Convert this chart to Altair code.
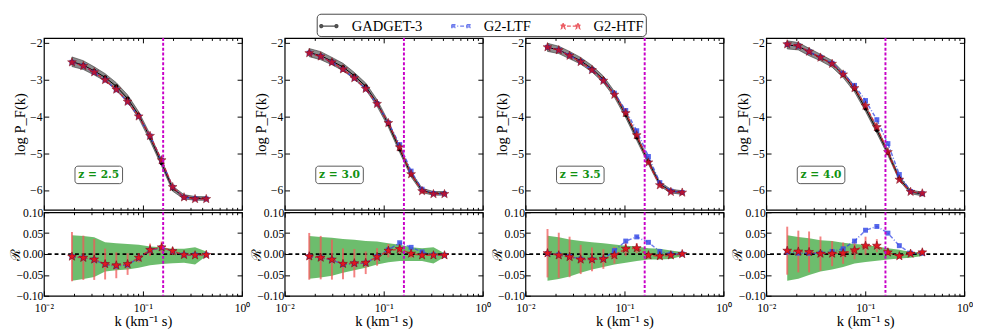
import math
import altair as alt
import pandas as pd

# ---------------- data ----------------
series_names = ["GADGET-3", "G2-LTF", "G2-HTF"]
z_labels = ["z = 2.5", "z = 3.0", "z = 3.5", "z = 4.0"]
k_cut = [0.16, 0.16, 0.16, 0.16]
zero_level = [0.0]

x_major = [0.01, 0.1, 1.0]
x_minor = [0.02, 0.03, 0.04, 0.05, 0.06, 0.07, 0.08, 0.09,
           0.2, 0.3, 0.4, 0.5, 0.6, 0.7, 0.8, 0.9]
x_tick_labels = ["10⁻²", "10⁻¹", "10⁰"]
ytop_ticks = [-6, -5, -4, -3, -2]
ybot_ticks = [-0.10, -0.05, 0.0, 0.05, 0.10]

k_vals = [
    [0.0192, 0.0250, 0.0322, 0.0415, 0.0538, 0.0700, 0.0906, 0.118, 0.1545, 0.1995, 0.260, 0.336, 0.436],
    [0.0177, 0.0231, 0.0300, 0.0388, 0.0505, 0.0658, 0.0857, 0.1114, 0.145, 0.189, 0.244, 0.318, 0.411],
    [0.0167, 0.0217, 0.0279, 0.0361, 0.0470, 0.0612, 0.0791, 0.103, 0.133, 0.1746, 0.2275, 0.294, 0.383],
    [0.0163, 0.0211, 0.0271, 0.0353, 0.0463, 0.0598, 0.0780, 0.1007, 0.131, 0.1694, 0.221, 0.287, 0.377],
]

gadget_logp = [
    [-2.515, -2.606, -2.764, -2.939, -3.184, -3.516, -3.964, -4.576, -5.274, -5.962, -6.188, -6.226, -6.232],
    [-2.267, -2.350, -2.497, -2.658, -2.896, -3.183, -3.635, -4.214, -4.899, -5.576, -6.012, -6.092, -6.092],
    [-2.124, -2.193, -2.334, -2.488, -2.705, -2.994, -3.400, -3.960, -4.574, -5.234, -5.840, -6.030, -6.070],
    [-2.056, -2.093, -2.251, -2.400, -2.573, -2.866, -3.259, -3.786, -4.378, -4.990, -5.690, -6.050, -6.110],
]
gadget_sigma = [
    [0.13, 0.12, 0.11, 0.10, 0.10, 0.10, 0.09, 0.09, 0.08, 0.07, 0.06, 0.05, 0.05],
    [0.11, 0.11, 0.10, 0.10, 0.09, 0.09, 0.09, 0.08, 0.08, 0.07, 0.06, 0.05, 0.05],
    [0.11, 0.10, 0.10, 0.09, 0.09, 0.09, 0.08, 0.08, 0.08, 0.07, 0.06, 0.05, 0.05],
    [0.11, 0.10, 0.10, 0.09, 0.09, 0.08, 0.08, 0.08, 0.08, 0.07, 0.06, 0.05, 0.05],
]
ltf_logp = [
    [-2.530, -2.629, -2.803, -3.012, -3.276, -3.607, -4.004, -4.535, -5.195, -5.926, -6.200, -6.238, -6.245],
    [-2.280, -2.371, -2.532, -2.724, -2.963, -3.253, -3.657, -4.172, -4.767, -5.487, -5.980, -6.100, -6.110],
    [-2.122, -2.197, -2.348, -2.518, -2.740, -3.030, -3.370, -3.840, -4.390, -5.090, -5.800, -6.030, -6.070],
    [-2.046, -2.089, -2.247, -2.395, -2.558, -2.830, -3.158, -3.570, -4.090, -4.740, -5.580, -6.040, -6.100],
]
htf_logp = [
    [-2.530, -2.630, -2.800, -3.010, -3.270, -3.600, -4.000, -4.530, -5.190, -5.920, -6.200, -6.245, -6.245],
    [-2.280, -2.370, -2.530, -2.720, -2.960, -3.250, -3.660, -4.180, -4.840, -5.570, -6.030, -6.110, -6.110],
    [-2.120, -2.200, -2.350, -2.520, -2.740, -3.030, -3.410, -3.910, -4.510, -5.250, -5.870, -6.050, -6.070],
    [-2.040, -2.080, -2.240, -2.400, -2.570, -2.860, -3.230, -3.710, -4.290, -4.970, -5.720, -6.050, -6.090],
]
ltf_ratio = [
    [-0.006, -0.009, -0.014, -0.025, -0.029, -0.026, -0.010, 0.009, 0.015, 0.006, -0.002, -0.002, -0.002],
    [-0.006, -0.009, -0.014, -0.025, -0.023, -0.022, -0.006, 0.010, 0.027, 0.016, 0.005, -0.002, -0.003],
    [0.001, -0.002, -0.006, -0.012, -0.013, -0.012, 0.008, 0.031, 0.041, 0.028, 0.006, 0.000, 0.000],
    [0.005, 0.002, 0.002, 0.002, 0.006, 0.0125, 0.031, 0.057, 0.066, 0.050, 0.020, 0.002, 0.002],
]
htf_ratio = [
    [-0.006, -0.009, -0.013, -0.024, -0.027, -0.024, -0.009, 0.010, 0.016, 0.007, -0.002, -0.003, -0.002],
    [-0.0055, -0.0086, -0.0133, -0.0235, -0.022, -0.021, -0.007, 0.008, 0.012, 0.001, -0.003, -0.003, -0.003],
    [0.002, -0.003, -0.007, -0.013, -0.013, -0.012, -0.003, 0.0125, 0.014, -0.003, -0.005, -0.003, 0.000],
    [0.008, 0.006, 0.005, 0.001, 0.001, 0.002, 0.009, 0.020, 0.020, 0.004, -0.005, 0.001, 0.004],
]
htf_err = [
    [0.059, 0.053, 0.049, 0.037, 0.031, 0.026, 0.011, 0.015, 0.014, 0.009, 0.006, 0.004, 0.003],
    [0.056, 0.052, 0.048, 0.037, 0.034, 0.027, 0.021, 0.016, 0.012, 0.010, 0.005, 0.004, 0.003],
    [0.058, 0.054, 0.0485, 0.035, 0.0285, 0.0235, 0.020, 0.0175, 0.012, 0.008, 0.005, 0.004, 0.003],
    [0.0575, 0.050, 0.049, 0.041, 0.030, 0.0255, 0.0215, 0.0215, 0.0156, 0.0067, 0.005, 0.004, 0.003],
]
band_upper = [
    [0.045, 0.043, 0.040, 0.028, 0.026, 0.024, 0.022, 0.018, 0.016, 0.0125, 0.0125, 0.016, 0.006],
    [0.043, 0.041, 0.039, 0.036, 0.034, 0.031, 0.030, 0.026, 0.022, 0.016, 0.014, 0.016, 0.002],
    [0.044, 0.040, 0.035, 0.031, 0.028, 0.026, 0.023, 0.020, 0.018, 0.014, 0.0125, 0.0086, 0.005],
    [0.045, 0.041, 0.038, 0.033, 0.031, 0.027, 0.024, 0.022, 0.018, 0.014, 0.010, 0.005, 0.004],
]
band_lower = [
    [-0.064, -0.060, -0.055, -0.042, -0.039, -0.037, -0.033, -0.027, -0.024, -0.022, -0.021, -0.025, -0.005],
    [-0.059, -0.056, -0.052, -0.045, -0.039, -0.033, -0.025, -0.020, -0.017, -0.017, -0.017, -0.023, -0.007],
    [-0.064, -0.060, -0.054, -0.045, -0.037, -0.031, -0.025, -0.021, -0.017, -0.013, -0.013, -0.012, -0.005],
    [-0.064, -0.059, -0.050, -0.042, -0.037, -0.031, -0.023, -0.019, -0.016, -0.013, -0.011, -0.009, -0.005],
]

# ---------------- style ----------------
SERIF = "Liberation Serif"
C_G, C_L, C_H = "black", "#2f43e6", "#e3161f"
MAGENTA = "#c800c8"
W, H_TOP, H_BOT = 204, 177, 86

xscale = alt.Scale(type="log", domain=[0.01, 1.0])
ytop_scale = alt.Scale(domain=[-6.54, -1.87], nice=False, zero=False)
ybot_scale = alt.Scale(domain=[-0.1, 0.1], nice=False, zero=False)

xlab_expr = ("datum.value < 0.05 ? '{0}' : (datum.value < 0.5 ? '{1}' : '{2}')"
             .format(*x_tick_labels))


def star_path(cx=0.0, cy=0.0, ro=1.0, ri=0.4):
    pts = []
    for j in range(10):
        r = ro if j % 2 == 0 else ri
        a = -math.pi / 2 + j * math.pi / 5
        pts.append(f"{cx + r * math.cos(a):.3f},{cy + r * math.sin(a):.3f}")
    return "M" + " L".join(pts) + " Z"


STAR = star_path()


def ax(orient, values, size, labels=False, title=None, **kw):
    return alt.Axis(orient=orient, values=values, tickSize=size, offset=-size,
                    labels=labels, title=title, domain=False, grid=False,
                    labelFlush=False, **kw)


def legend_paths():
    def circ(cx, r):
        return (f"M{cx - r},0 A{r},{r} 0 1,0 {cx + r},0 "
                f"A{r},{r} 0 1,0 {cx - r},0 Z")

    def sq(cx, h):
        return f"M{cx - h},{-h} L{cx + h},{-h} L{cx + h},{h} L{cx - h},{h} Z"

    line = "M-1,0 L1,0 "
    return [line + circ(-0.8, 0.16) + " " + circ(0.8, 0.16),
            line + sq(-0.8, 0.17) + " " + sq(0.8, 0.17),
            line + star_path(-0.78, 0, 0.32, 0.13) + " " + star_path(0.78, 0, 0.32, 0.13)]


def legend_layer():
    leg = alt.Legend(title=None, orient="none", legendX=281, legendY=-25,
                     direction="horizontal", symbolSize=380,
                     symbolStrokeWidth=1.2, labelFont=SERIF, labelFontSize=15,
                     labelColor="black", columnPadding=27, labelOffset=13,
                     padding=2, strokeColor="#444", cornerRadius=4,
                     fillColor="white")
    cols = [C_G, C_L, C_H]
    return alt.Chart(alt.Data(values=[])).mark_point(filled=True).encode(
        fill=alt.Fill("series:N", scale=alt.Scale(domain=series_names, range=cols), legend=leg),
        stroke=alt.Stroke("series:N", scale=alt.Scale(domain=series_names, range=cols), legend=leg),
        shape=alt.Shape("series:N", scale=alt.Scale(domain=series_names, range=legend_paths()), legend=leg),
        strokeDash=alt.StrokeDash("series:N", scale=alt.Scale(domain=series_names,
                                  range=[[1, 0], [4, 2, 1, 2], [4, 2]]), legend=leg),
    )


def top_panel(i):
    df = pd.DataFrame({"k": k_vals[i], "g": gadget_logp[i], "s": gadget_sigma[i],
                       "l": ltf_logp[i], "h": htf_logp[i]})
    df["lo"] = df["g"] - df["s"]
    df["hi"] = df["g"] + df["s"]
    base = alt.Chart(df)
    band = base.mark_area(fill="black", fillOpacity=0.45, stroke="#333",
                          strokeWidth=0.6).encode(
        x=alt.X("k:Q", scale=xscale, axis=ax("bottom", x_major, 5)),
        y=alt.Y("lo:Q", scale=ytop_scale,
                axis=ax("left", ytop_ticks, 5, labels=True, title="log P_F(k)",
                        titlePadding=2, labelPadding=2)),
        y2="hi:Q")
    g_line = base.mark_line(color=C_G, strokeWidth=1).encode(
        x=alt.X("k:Q", scale=xscale, axis=ax("bottom", x_minor, 2.5)),
        y=alt.Y("g:Q", scale=ytop_scale, axis=ax("right", ytop_ticks, 5)))
    l_line = base.mark_line(color=C_L, strokeWidth=1.5, strokeDash=[4, 2, 1, 2],
                            opacity=0.75).encode(
        x=alt.X("k:Q", scale=xscale, axis=ax("top", x_major, 5)),
        y=alt.Y("l:Q", scale=ytop_scale, axis=None))
    h_line = base.mark_line(color=C_H, strokeWidth=1.5, strokeDash=[4, 2],
                            opacity=0.75).encode(
        x=alt.X("k:Q", scale=xscale, axis=ax("top", x_minor, 2.5)),
        y=alt.Y("h:Q", scale=ytop_scale, axis=None))
    g_pts = base.mark_point(shape="circle", filled=True, size=18, color=C_G,
                            opacity=1).encode(
        x=alt.X("k:Q", scale=xscale, axis=None),
        y=alt.Y("g:Q", scale=ytop_scale, axis=None))
    l_pts = base.mark_point(shape="square", filled=True, size=26, color=C_L,
                            opacity=0.8).encode(
        x=alt.X("k:Q", scale=xscale, axis=None),
        y=alt.Y("l:Q", scale=ytop_scale, axis=None))
    h_pts = base.mark_point(shape=STAR, filled=True, size=90, fill="#c8102a",
                            stroke="#7a0a1a", strokeWidth=0.6, opacity=0.9).encode(
        x=alt.X("k:Q", scale=xscale, axis=None),
        y=alt.Y("h:Q", scale=ytop_scale, axis=None))
    vline = alt.Chart(pd.DataFrame({"k": [k_cut[i]]})).mark_rule(
        color=MAGENTA, strokeWidth=2, strokeDash=[3, 2]).encode(
        x=alt.X("k:Q", scale=xscale, axis=None))
    zdf = alt.Chart(pd.DataFrame({"z": [z_labels[i]]}))
    zbox = zdf.mark_rect(fill="white", stroke="#555", strokeWidth=1,
                         cornerRadius=3).encode(
        x=alt.value(32), x2=alt.value(81), y=alt.value(132), y2=alt.value(150))
    ztxt = zdf.mark_text(font="DejaVu Serif", fontWeight="bold", fontSize=11,
                         color="#119111").encode(
        x=alt.value(56.5), y=alt.value(141.5), text="z:N")
    layers = [band, g_line, l_line, h_line, g_pts, l_pts, h_pts, vline, zbox, ztxt]
    if i == 0:
        layers.append(legend_layer())
    return alt.layer(*layers).resolve_axis(x="independent", y="independent").properties(
        width=W, height=H_TOP)


def bottom_panel(i):
    df = pd.DataFrame({"k": k_vals[i], "rl": ltf_ratio[i], "rh": htf_ratio[i],
                       "e": htf_err[i], "bu": band_upper[i], "bl": band_lower[i]})
    df["elo"] = df["rh"] - df["e"]
    df["ehi"] = df["rh"] + df["e"]
    base = alt.Chart(df)
    band = base.mark_area(fill="#1f9a1f", fillOpacity=0.65).encode(
        x=alt.X("k:Q", scale=xscale,
                axis=ax("bottom", x_major, 5, labels=True, title="k (km⁻¹ s)",
                        labelExpr=xlab_expr, labelPadding=7, titlePadding=1)),
        y=alt.Y("bl:Q", scale=ybot_scale,
                axis=ax("left", ybot_ticks, 5, labels=True, title="ℛ",
                        format=".2f", labelPadding=1, titleX=-27,
                        titleY=H_BOT / 2, titleAngle=270, titleAlign="center",
                        titleBaseline="bottom", titleFontSize=14)),
        y2="bu:Q")
    zero = alt.Chart(pd.DataFrame({"r": zero_level})).mark_rule(
        color="black", strokeWidth=1.8, strokeDash=[4, 3]).encode(
        y=alt.Y("r:Q", scale=ybot_scale, axis=ax("right", ybot_ticks, 5)))
    err = base.mark_rule(color="#f05a5a", strokeWidth=2, opacity=0.75).encode(
        x=alt.X("k:Q", scale=xscale, axis=ax("bottom", x_minor, 2.5)),
        y=alt.Y("elo:Q", scale=ybot_scale, axis=None), y2="ehi:Q")
    l_line = base.mark_line(color=C_L, strokeWidth=1.5, strokeDash=[4, 2, 1, 2],
                            opacity=0.7).encode(
        x=alt.X("k:Q", scale=xscale, axis=ax("top", x_major, 5)),
        y=alt.Y("rl:Q", scale=ybot_scale, axis=None))
    h_line = base.mark_line(color=C_H, strokeWidth=1.5, strokeDash=[4, 2],
                            opacity=0.7).encode(
        x=alt.X("k:Q", scale=xscale, axis=ax("top", x_minor, 2.5)),
        y=alt.Y("rh:Q", scale=ybot_scale, axis=None))
    l_pts = base.mark_point(shape="square", filled=True, size=26, color="#3a4ee6",
                            opacity=0.85).encode(
        x=alt.X("k:Q", scale=xscale, axis=None),
        y=alt.Y("rl:Q", scale=ybot_scale, axis=None))
    h_pts = base.mark_point(shape=STAR, filled=True, size=90, fill=C_H,
                            stroke="#7a0a1a", strokeWidth=0.6, opacity=1).encode(
        x=alt.X("k:Q", scale=xscale, axis=None),
        y=alt.Y("rh:Q", scale=ybot_scale, axis=None))
    vline = alt.Chart(pd.DataFrame({"k": [k_cut[i]]})).mark_rule(
        color=MAGENTA, strokeWidth=2, strokeDash=[3, 2]).encode(
        x=alt.X("k:Q", scale=xscale, axis=None))
    return alt.layer(band, zero, err, l_line, h_line, l_pts, h_pts, vline).resolve_axis(
        x="independent", y="independent").properties(width=W, height=H_BOT)


columns = []
for i in range(4):
    col = alt.vconcat(top_panel(i), bottom_panel(i), spacing=2.5,
                      bounds="flush").resolve_scale(y="independent")
    columns.append(col)

chart = alt.hconcat(*columns, spacing=-2.0).resolve_scale(
    x="independent", y="independent"
).properties(
    padding={"left": 0, "top": 0, "right": 0, "bottom": 0}
).configure_view(
    stroke="black", strokeWidth=1.2
).configure_axis(
    labelFont=SERIF, labelFontSize=12, titleFont=SERIF, titleFontSize=15,
    titleFontWeight="normal", labelColor="black", titleColor="black",
    tickColor="black", tickWidth=1
)

chart.save("out.html", embed_options={"renderer": "svg", "actions": False})
